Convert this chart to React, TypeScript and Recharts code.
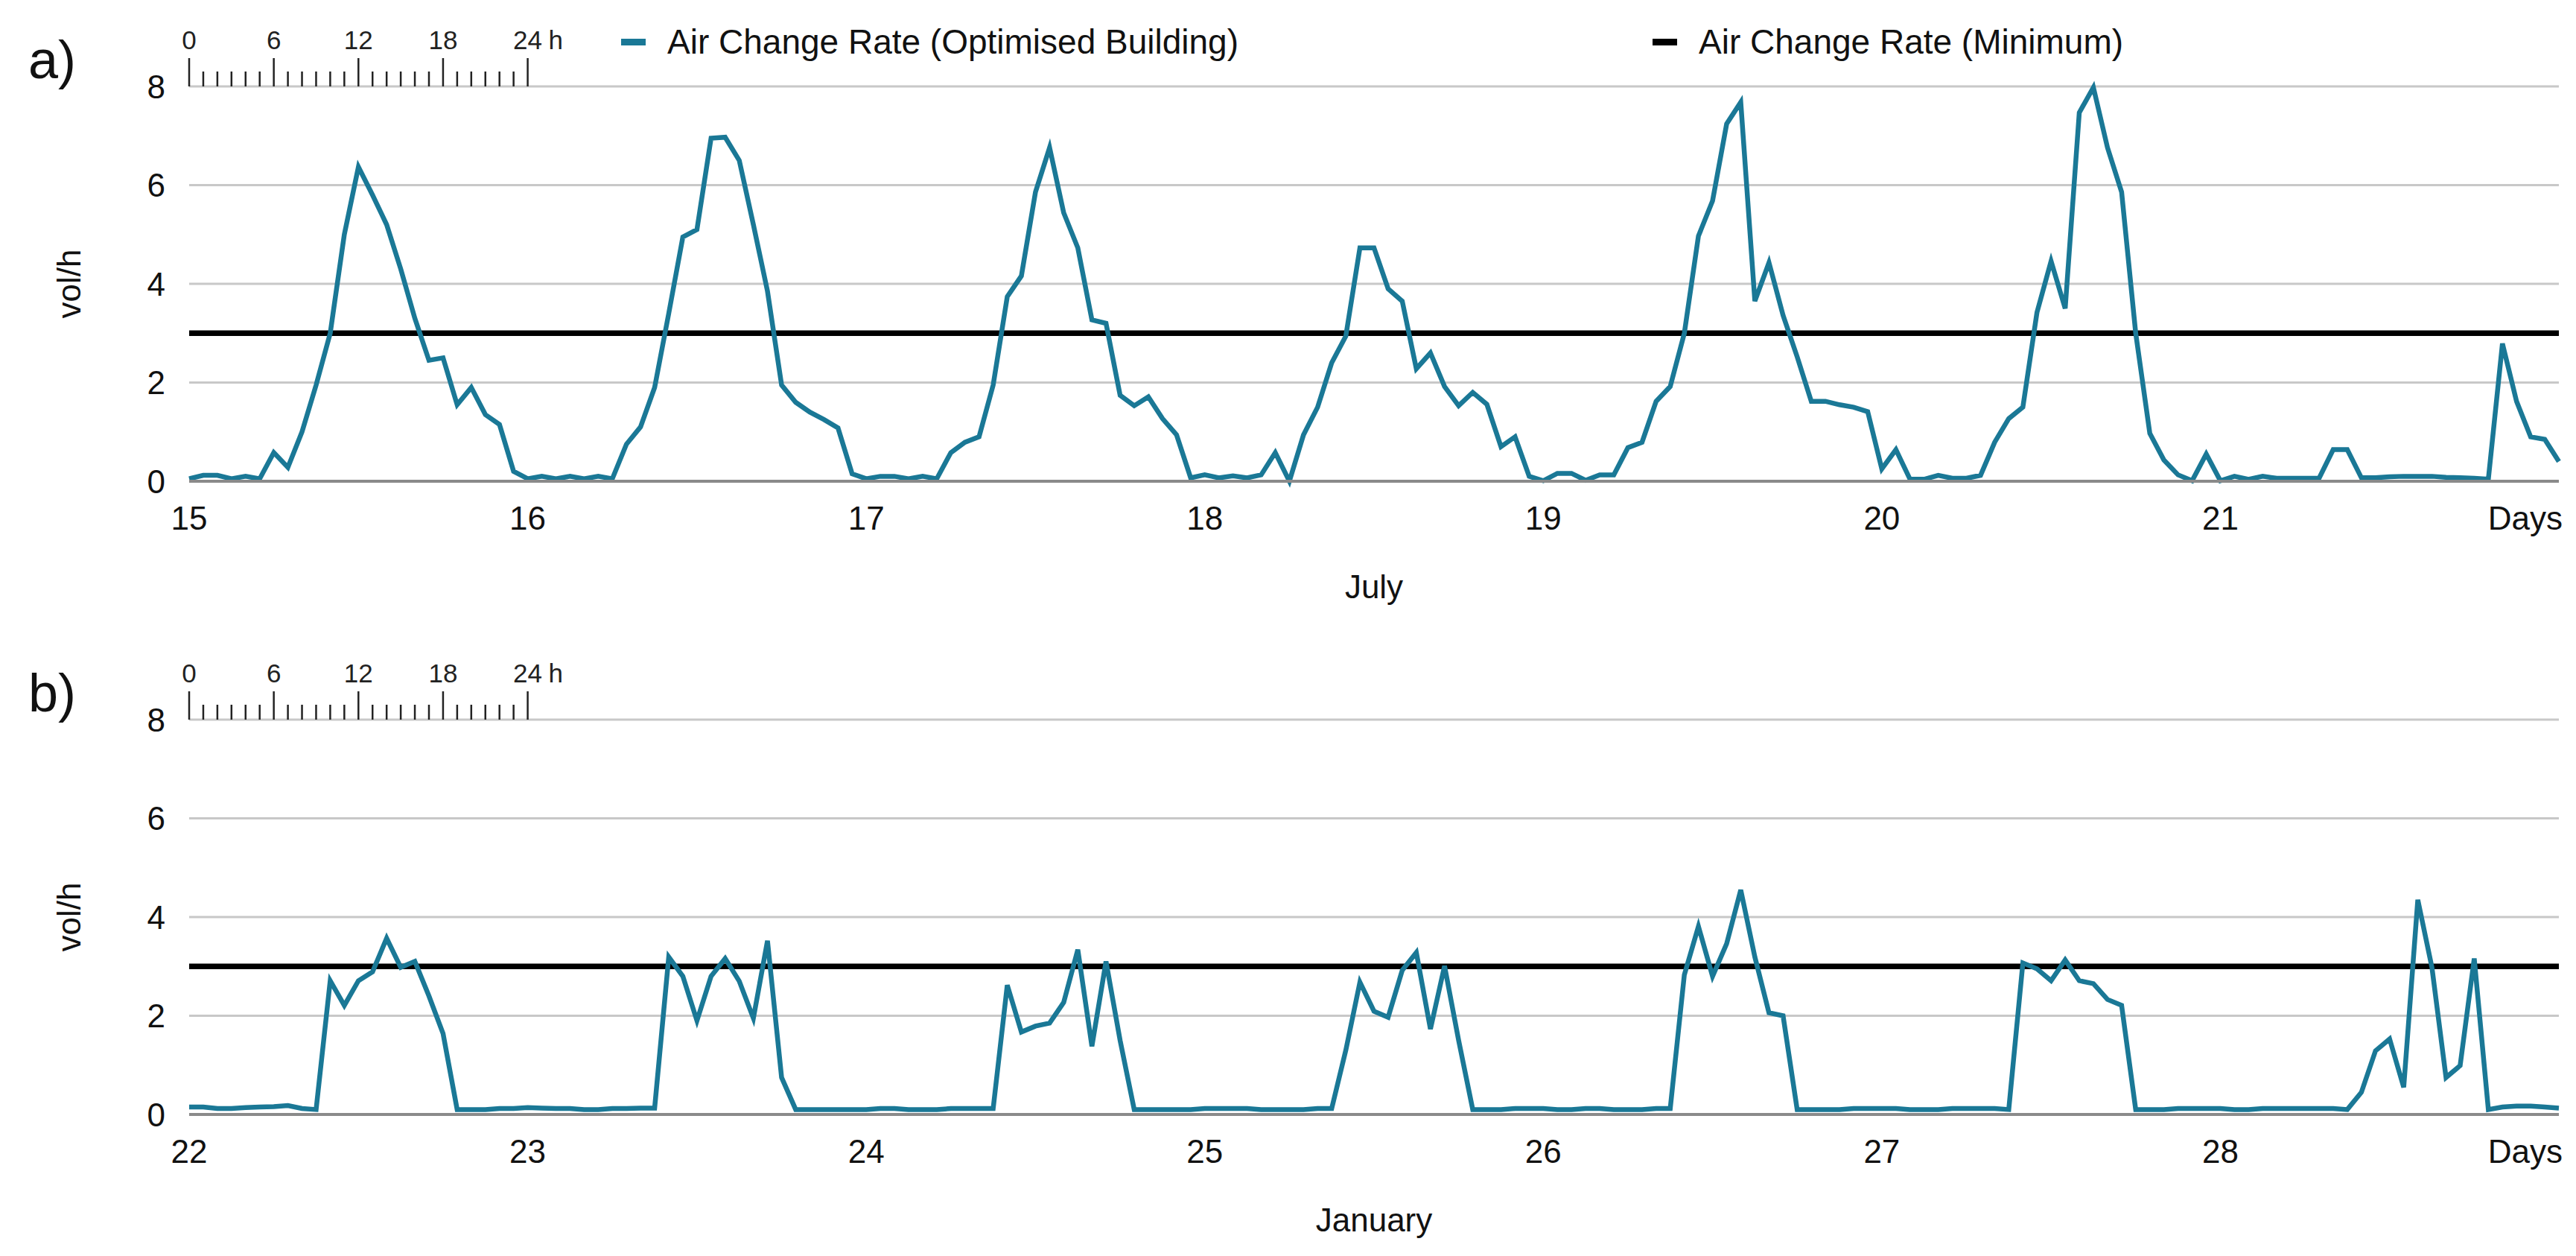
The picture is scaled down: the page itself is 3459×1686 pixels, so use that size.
import React from 'react';
import { LineChart, Line, XAxis, YAxis, CartesianGrid, ReferenceLine } from 'recharts';

const FONT = '"Liberation Sans", Arial, Helvetica, sans-serif';
const TEAL = '#1a7896';

// hourly air change rate, 15-21 July (vol/h), one row per day
const julyRate = [
  0.05, 0.12, 0.12, 0.05, 0.1, 0.05, 0.58, 0.28, 1.0, 1.95, 3.0, 5.0, 6.37, 5.8, 5.2, 4.3, 3.3, 2.45, 2.5, 1.55, 1.9, 1.35, 1.15, 0.2,
  0.05, 0.1, 0.05, 0.1, 0.05, 0.1, 0.05, 0.75, 1.1, 1.9, 3.4, 4.95, 5.1, 6.95, 6.97, 6.5, 5.2, 3.85, 1.95, 1.6, 1.4, 1.25, 1.08, 0.15,
  0.05, 0.1, 0.1, 0.05, 0.1, 0.05, 0.58, 0.79, 0.9, 1.95, 3.74, 4.16, 5.86, 6.76, 5.44, 4.73, 3.27, 3.2, 1.74, 1.53, 1.71, 1.27, 0.94, 0.07,
  0.13, 0.07, 0.11, 0.07, 0.13, 0.58, 0.0, 0.94, 1.5, 2.4, 2.94, 4.73, 4.73, 3.9, 3.65, 2.28, 2.6, 1.92, 1.53, 1.8, 1.56, 0.7, 0.9, 0.1,
  0.01, 0.16, 0.16, 0.02, 0.13, 0.13, 0.68, 0.79, 1.62, 1.92, 3.0, 4.97, 5.68, 7.24, 7.68, 3.65, 4.43, 3.36, 2.52, 1.62, 1.62, 1.55, 1.5, 1.41,
  0.25, 0.64, 0.04, 0.04, 0.12, 0.06, 0.06, 0.12, 0.79, 1.27, 1.5, 3.42, 4.46, 3.5, 7.47, 7.98, 6.76, 5.86, 3.0, 0.97, 0.43, 0.13, 0.01, 0.55,
  0.01, 0.1, 0.04, 0.1, 0.06, 0.06, 0.06, 0.06, 0.64, 0.64, 0.07, 0.07, 0.09, 0.1, 0.1, 0.1, 0.08, 0.07, 0.06, 0.04, 2.79, 1.62, 0.9, 0.85, 0.4,
];

// hourly air change rate, 22-28 January (vol/h)
const januaryRate = [
  0.15, 0.15, 0.12, 0.12, 0.14, 0.15, 0.16, 0.18, 0.12, 0.1, 2.71, 2.21, 2.71, 2.89, 3.57, 2.98, 3.1, 2.4, 1.64, 0.1, 0.1, 0.1, 0.12, 0.12,
  0.14, 0.13, 0.12, 0.12, 0.1, 0.1, 0.12, 0.12, 0.13, 0.13, 3.19, 2.8, 1.9, 2.8, 3.16, 2.7, 1.95, 3.52, 0.75, 0.1, 0.1, 0.1, 0.1, 0.1,
  0.1, 0.12, 0.12, 0.1, 0.1, 0.1, 0.12, 0.12, 0.12, 0.12, 2.62, 1.67, 1.79, 1.85, 2.27, 3.34, 1.38, 3.1, 1.5, 0.1, 0.1, 0.1, 0.1, 0.1,
  0.12, 0.12, 0.12, 0.12, 0.1, 0.1, 0.1, 0.1, 0.12, 0.12, 1.3, 2.68, 2.09, 1.97, 2.92, 3.28, 1.73, 3.01, 1.5, 0.1, 0.1, 0.1, 0.12, 0.12,
  0.12, 0.1, 0.1, 0.12, 0.12, 0.1, 0.1, 0.1, 0.12, 0.12, 2.83, 3.81, 2.8, 3.46, 4.55, 3.19, 2.06, 2.0, 0.1, 0.1, 0.1, 0.1, 0.12, 0.12,
  0.12, 0.12, 0.1, 0.1, 0.1, 0.12, 0.12, 0.12, 0.12, 0.1, 3.07, 2.95, 2.71, 3.13, 2.71, 2.65, 2.33, 2.21, 0.1, 0.1, 0.1, 0.12, 0.12, 0.12,
  0.12, 0.1, 0.1, 0.12, 0.12, 0.12, 0.12, 0.12, 0.12, 0.1, 0.45, 1.29, 1.53, 0.55, 4.35, 2.98, 0.75, 0.99, 3.16, 0.1, 0.15, 0.17, 0.17, 0.15,
  0.13,
];

const julyDays = ['15', '16', '17', '18', '19', '20', '21', 'Days'];
const januaryDays = ['22', '23', '24', '25', '26', '27', '28', 'Days'];
const dayTicks = [0, 24, 48, 72, 96, 120, 144, 168];
const hourTicks = [0, 1, 2, 3, 4, 5, 6, 7, 8, 9, 10, 11, 12, 13, 14, 15, 16, 17, 18, 19, 20, 21, 22, 23, 24];
const hourLabels = [0, 6, 12, 18, 24];
const rateTicks = [0, 2, 4, 6, 8];
const MIN_RATE = 3;

const legendItems = [
  { label: 'Air Change Rate (Optimised Building)', color: TEAL, left: 834 },
  { label: 'Air Change Rate (Minimum)', color: '#000', left: 2219 },
];

const toRows = (values: number[]) => values.map((rate, hour) => ({ hour, rate }));

const HourTick = ({ x, y, payload }: any) => {
  const h = payload.value;
  const major = hourLabels.includes(h);
  return (
    <g>
      <line x1={x} y1={y} x2={x} y2={y - (major ? 38 : 20)} stroke="#222" strokeWidth={2.5} />
      {major && (
        <text x={x} y={y - 63} textAnchor="middle" dominantBaseline="central" fontSize={35} fontFamily={FONT} fill="#222">
          {h}
        </text>
      )}
      {h === 24 && (
        <text x={x + 28} y={y - 63} textAnchor="start" dominantBaseline="central" fontSize={35} fontFamily={FONT} fill="#222">
          h
        </text>
      )}
    </g>
  );
};

const makeDayTick = (labels: string[]) => ({ x, y, payload }: any) => {
  const i = dayTicks.indexOf(payload.value);
  const last = i === labels.length - 1;
  return (
    <text
      x={last ? x + 5 : x}
      y={y + 49}
      textAnchor={last ? 'end' : 'middle'}
      dominantBaseline="central"
      fontSize={44}
      fontFamily={FONT}
      fill="#111"
    >
      {labels[i]}
    </text>
  );
};

interface PanelProps {
  tag: string;
  month: string;
  days: string[];
  values: number[];
  top: number;
  legend?: boolean;
}

const Panel: React.FC<PanelProps> = ({ tag, month, days, values, top, legend }) => (
  <div style={{ position: 'absolute', left: 0, top, width: 3459, height: 843 }}>
    <div style={{ position: 'absolute', left: 38, top: 44, fontSize: 72, lineHeight: 1, fontFamily: FONT, color: '#111' }}>{tag}</div>
    {legend &&
      legendItems.map((item) => (
        <div
          key={item.label}
          style={{ position: 'absolute', left: item.left, top: 30, height: 52, display: 'flex', alignItems: 'center', fontFamily: FONT }}
        >
          <div style={{ width: 33, height: 9, background: item.color, marginRight: 29 }} />
          <span style={{ fontSize: 46, lineHeight: '52px', color: '#111', whiteSpace: 'nowrap' }}>{item.label}</span>
        </div>
      ))}
    <LineChart width={3459} height={843} data={toRows(values)} margin={{ top: 115, right: 23, bottom: 37, left: 194 }}>
      <CartesianGrid vertical={false} stroke="#c8c8c8" strokeWidth={3} />
      <XAxis
        xAxisId="hours"
        orientation="top"
        dataKey="hour"
        type="number"
        domain={[0, 168]}
        ticks={hourTicks}
        interval={0}
        height={1}
        axisLine={false}
        tickLine={false}
        tickSize={0}
        tickMargin={0}
        tick={HourTick}
      />
      <XAxis
        dataKey="hour"
        type="number"
        domain={[0, 168]}
        ticks={dayTicks}
        interval={0}
        height={160}
        tickSize={0}
        tickMargin={0}
        tickLine={false}
        axisLine={{ stroke: '#8a8a8a', strokeWidth: 4 }}
        tick={makeDayTick(days)}
        label={({ viewBox }: any) => (
          <text
            x={viewBox.x + viewBox.width / 2}
            y={viewBox.y + 141}
            textAnchor="middle"
            dominantBaseline="central"
            fontSize={44}
            fontFamily={FONT}
            fill="#111"
          >
            {month}
          </text>
        )}
      />
      <YAxis
        width={60}
        domain={[0, 8]}
        ticks={rateTicks}
        interval={0}
        tickSize={0}
        tickMargin={32}
        axisLine={false}
        tickLine={false}
        tick={{ fontSize: 44, fill: '#111', fontFamily: FONT }}
        label={({ viewBox }: any) => {
          const cx = viewBox.x + viewBox.width - 162;
          const cy = viewBox.y + viewBox.height / 2;
          return (
            <text
              x={cx}
              y={cy}
              transform={`rotate(-90 ${cx} ${cy})`}
              textAnchor="middle"
              dominantBaseline="central"
              fontSize={44}
              fontFamily={FONT}
              fill="#111"
            >
              vol/h
            </text>
          );
        }}
      />
      <ReferenceLine y={MIN_RATE} stroke="#000" strokeWidth={7.5} />
      <Line type="linear" dataKey="rate" stroke={TEAL} strokeWidth={6.5} dot={false} activeDot={false} isAnimationActive={false} />
    </LineChart>
  </div>
);

export default function App() {
  return (
    <div style={{ position: 'absolute', left: 0, top: 0, width: 3459, height: 1686, background: '#fff' }}>
      <Panel tag="a)" month="July" days={julyDays} values={julyRate} top={0} legend />
      <Panel tag="b)" month="January" days={januaryDays} values={januaryRate} top={850} />
    </div>
  );
}
